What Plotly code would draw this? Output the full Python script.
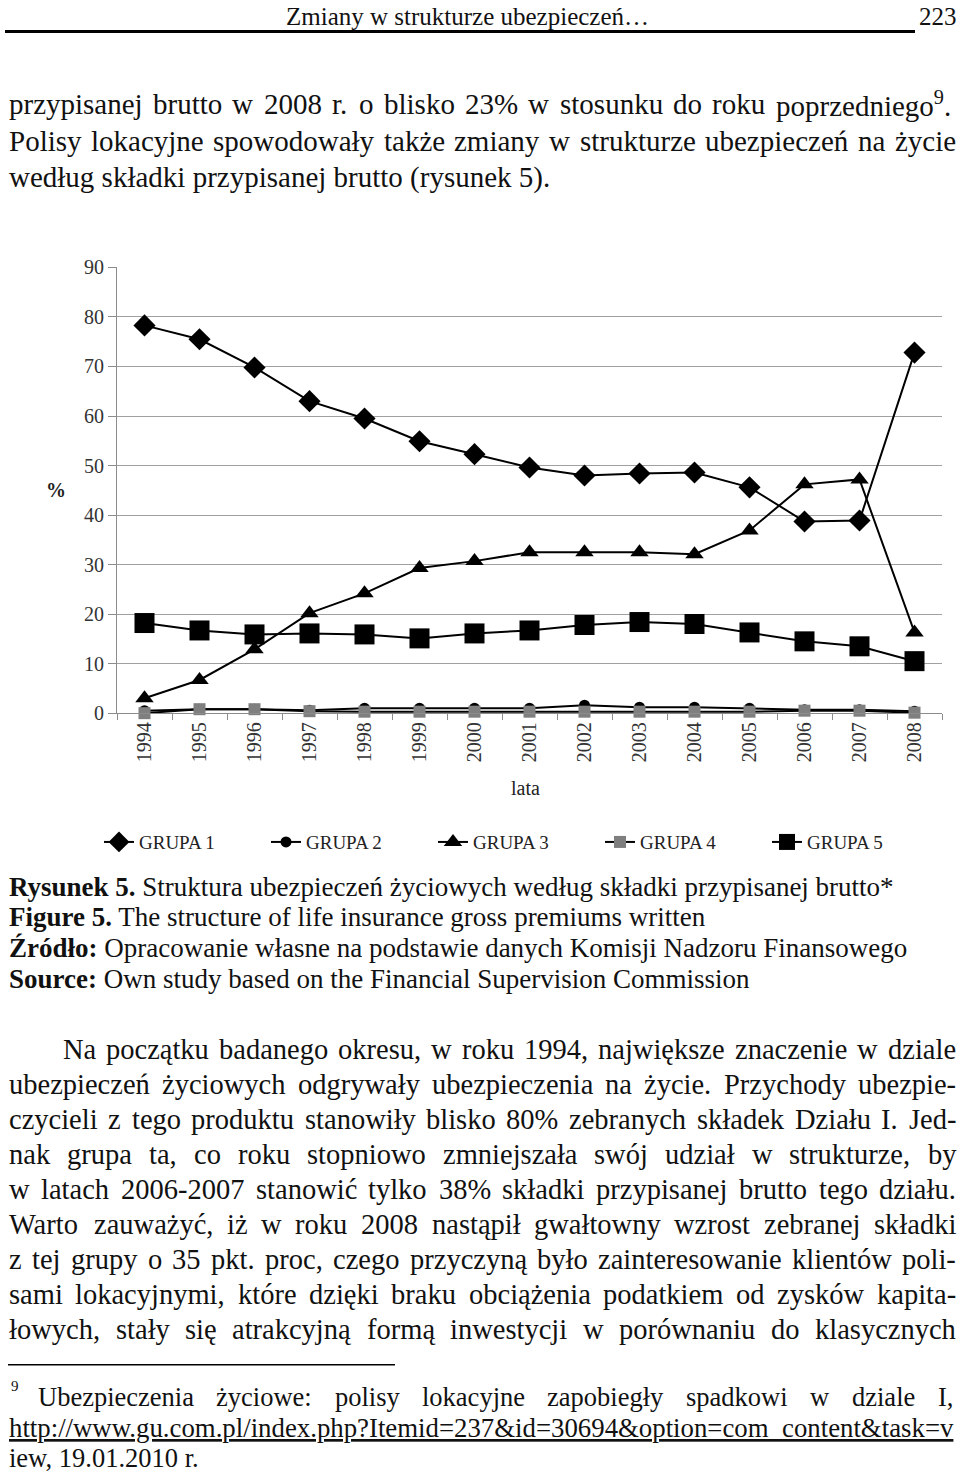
import re
import plotly.graph_objects as go

# ---------------- data ----------------
years = ["1994", "1995", "1996", "1997", "1998", "1999", "2000", "2001",
         "2002", "2003", "2004", "2005", "2006", "2007", "2008"]
grupa1 = [78.3, 75.5, 69.8, 63.0, 59.5, 54.9, 52.3, 49.6, 48.0, 48.4, 48.6, 45.6, 38.7, 38.9, 72.8]
grupa2 = [0.5, 0.8, 0.8, 0.6, 1.0, 1.0, 1.0, 1.0, 1.6, 1.2, 1.2, 1.0, 0.7, 0.7, 0.4]
grupa3 = [3.0, 6.7, 12.9, 20.2, 24.2, 29.3, 30.7, 32.5, 32.5, 32.5, 32.1, 36.9, 46.2, 47.2, 16.3]
grupa4 = [0.0, 0.8, 0.8, 0.4, 0.3, 0.3, 0.3, 0.3, 0.3, 0.3, 0.3, 0.3, 0.5, 0.5, 0.1]
grupa5 = [18.2, 16.7, 15.9, 16.1, 15.9, 15.1, 16.1, 16.7, 17.8, 18.4, 18.0, 16.3, 14.5, 13.5, 10.5]
series_names = ["GRUPA 1", "GRUPA 2", "GRUPA 3", "GRUPA 4", "GRUPA 5"]
y_ticks = [0, 10, 20, 30, 40, 50, 60, 70, 80, 90]

header_text = "Zmiany w strukturze ubezpieczeń…"
page_number = "223"
top_lines = [
    "przypisanej brutto w 2008 r. o blisko 23% w stosunku do roku poprzedniego<sup>9</sup>.",
    "Polisy lokacyjne spowodowały także zmiany w strukturze ubezpieczeń na życie",
    "według składki przypisanej brutto (rysunek 5).",
]
caption_lines = [
    ("Rysunek 5.", "Struktura ubezpieczeń życiowych według składki przypisanej brutto*"),
    ("Figure 5.", "The structure of life insurance gross premiums written"),
    ("Źródło:", "Opracowanie własne na podstawie danych Komisji Nadzoru Finansowego"),
    ("Source:", "Own study based on the Financial Supervision Commission"),
]
body_lines = [
    "Na początku badanego okresu, w roku 1994, największe znaczenie w dziale",
    "ubezpieczeń życiowych odgrywały ubezpieczenia na życie. Przychody ubezpie-",
    "czycieli z tego produktu stanowiły blisko 80% zebranych składek Działu I. Jed-",
    "nak grupa ta, co roku stopniowo zmniejszała swój udział w strukturze, by",
    "w latach 2006-2007 stanowić tylko 38% składki przypisanej brutto tego działu.",
    "Warto zauważyć, iż w roku 2008 nastąpił gwałtowny wzrost zebranej składki",
    "z tej grupy o 35 pkt. proc, czego przyczyną było zainteresowanie klientów poli-",
    "sami lokacyjnymi, które dzięki braku obciążenia podatkiem od zysków kapita-",
    "łowych, stały się atrakcyjną formą inwestycji w porównaniu do klasycznych",
]
footnote_mark = "9"
footnote_line1 = "Ubezpieczenia życiowe: polisy lokacyjne zapobiegły spadkowi w dziale I,"
footnote_url = "http://www.gu.com.pl/index.php?Itemid=237&id=30694&option=com_content&task=v"
footnote_line3 = "iew, 19.01.2010 r."

SERIF = "Liberation Serif, Times New Roman, serif"
W, H = 960, 1476


def px(x):
    return x / W


def py(y):
    # vertical page position (px from top), with a slight stretch about the chart
    yy = (y - 10.4) / 0.9857
    return 1 - yy / H


# Times-Roman advance widths (1/1000 em) used to justify lines
TW = {' ': 250, 'a': 444, 'b': 500, 'c': 444, 'd': 500, 'e': 444, 'f': 333, 'g': 500, 'h': 500,
      'i': 278, 'j': 278, 'k': 500, 'l': 278, 'm': 778, 'n': 500, 'o': 500, 'p': 500, 'q': 500,
      'r': 333, 's': 389, 't': 278, 'u': 500, 'v': 500, 'w': 722, 'x': 500, 'y': 500, 'z': 444,
      'A': 722, 'B': 667, 'C': 667, 'D': 722, 'E': 611, 'F': 556, 'G': 722, 'H': 722, 'I': 333,
      'J': 389, 'K': 722, 'L': 611, 'M': 889, 'N': 722, 'O': 722, 'P': 556, 'Q': 722, 'R': 667,
      'S': 556, 'T': 611, 'U': 722, 'V': 722, 'W': 944, 'X': 722, 'Y': 722, 'Z': 611,
      '.': 250, ',': 250, '-': 333, ':': 278, ';': 278, '%': 833, '(': 333, ')': 333, '/': 278,
      '?': 444, '&': 778, '=': 564, '_': 500, '*': 500,
      'ą': 444, 'ę': 444, 'ć': 444, 'ń': 500, 'ó': 500, 'ś': 389, 'ź': 444, 'ż': 444, 'ł': 278,
      'Ł': 611, 'Ź': 611, 'Ż': 611, 'Ś': 556}


def text_units(s):
    sup = re.findall(r"<sup>(.*?)</sup>", s)
    plain = re.sub(r"<sup>.*?</sup>", "", s)
    u = sum(500 if ch.isdigit() else TW.get(ch, 500) for ch in plain)
    u += sum(0.7 * sum(500 if ch.isdigit() else TW.get(ch, 500) for ch in t) for t in sup)
    return u


annotations = []


def add_text(x, y, text, size, anchor="left", color="#111111"):
    annotations.append(dict(
        x=px(x), y=py(y), xref="paper", yref="paper", text=text, showarrow=False,
        xanchor=anchor, yanchor="middle", borderpad=0,
        font=dict(family=SERIF, size=size, color=color)))


def justified(y, line, left, right, size, justify=True):
    words = line.split(" ")
    if not justify or len(words) == 1:
        add_text(left, y, line, size)
        return
    widths = [text_units(w) * size / 1000 for w in words]
    gap = (right - left - sum(widths)) / (len(words) - 1)
    x = left
    for w, wd in zip(words, widths):
        add_text(x, y, w, size)
        x += wd + gap


# ---------------- chart ----------------
fig = go.Figure()
styles = [
    dict(symbol="diamond", size=17, color="#000000"),
    dict(symbol="circle", size=11, color="#000000"),
    dict(symbol="triangle-up", size=16, color="#000000"),
    dict(symbol="square", size=12, color="#7f7f7f"),
    dict(symbol="square", size=20, color="#000000"),
]
for name, vals, st in zip(series_names, [grupa1, grupa2, grupa3, grupa4, grupa5], styles):
    fig.add_trace(go.Scatter(
        x=years, y=vals, name=name, mode="lines+markers", cliponaxis=False,
        line=dict(color="#000000", width=2),
        marker=dict(symbol=st["symbol"], size=st["size"], color=st["color"]),
    ))

fig.update_xaxes(
    type="category", domain=[px(117), px(942)], range=[-0.5, 14.5],
    showline=True, linecolor="#8c8c8c", linewidth=1, showgrid=False,
    ticks="outside", tickson="boundaries", ticklen=6, tickcolor="#8c8c8c",
    tickangle=-90, tickfont=dict(family=SERIF, size=20, color="#333333"),
)
fig.update_yaxes(
    domain=[py(713), py(267)], range=[0, 90], tickvals=y_ticks,
    showline=True, linecolor="#8c8c8c", linewidth=1,
    showgrid=True, gridcolor="#a0a0a0", gridwidth=1, zeroline=False,
    ticks="outside", ticklen=8, tickcolor="#8c8c8c",
    tickfont=dict(family=SERIF, size=20, color="#333333"),
)

# axis titles
add_text(56, 490, "<b>%</b>", 20, anchor="center", color="#222222")
add_text(525, 788, "lata", 20, anchor="center", color="#222222")

# header
add_text(467, 16, header_text, 25, anchor="center")
add_text(958, 16, page_number, 25, anchor="right")

# top paragraph
justified(103, top_lines[0], 8, 950, 29)
justified(140, top_lines[1], 8, 955, 29)
justified(177, top_lines[2], 8, 955, 29, justify=False)

# caption
for (b, rest), y in zip(caption_lines, [887, 917, 948, 979]):
    add_text(8, y, f"<b>{b}</b> {rest}", 27)

# body paragraph
for i, (line, y) in enumerate(zip(body_lines, [1050 + 35 * k for k in range(9)])):
    left = 62 if i == 0 else 8
    justified(y, line, left, 955, 28.5)

# footnote
add_text(10, 1386, footnote_mark, 15)
justified(1397, footnote_line1, 37, 952, 26.5)
add_text(8, 1428, f"<u>{footnote_url.replace('&', '&amp;')}</u>", 26.8)
add_text(8, 1458, footnote_line3, 26.5)

shapes = [
    dict(type="line", xref="paper", yref="paper", x0=px(5), x1=px(915), y0=py(31), y1=py(31),
         line=dict(color="#000000", width=3)),
    dict(type="line", xref="paper", yref="paper", x0=px(8), x1=px(395), y0=py(1365), y1=py(1365),
         line=dict(color="#000000", width=1.5)),
]

fig.update_layout(
    width=W, height=H, autosize=False,
    margin=dict(l=0, r=0, t=0, b=0),
    paper_bgcolor="white", plot_bgcolor="white",
    font=dict(family=SERIF, color="#111111"),
    showlegend=True,
    legend=dict(orientation="h", x=px(99), y=py(842), xanchor="left", yanchor="middle",
                font=dict(family=SERIF, size=19, color="#222222"),
                entrywidth=122, entrywidthmode="pixels", itemsizing="trace",
                bgcolor="rgba(0,0,0,0)"),
    annotations=annotations,
    shapes=shapes,
)

fig.write_html(
    "out.html",
    config={"displayModeBar": False, "responsive": False},
    post_script=(
        "document.documentElement.style.margin='0px';"
        "document.documentElement.style.padding='0px';"
        "document.documentElement.style.overflow='hidden';"
        "document.body.style.margin='0px';"
        "document.body.style.padding='0px';"
        "document.body.style.overflow='hidden';"
    ),
)
